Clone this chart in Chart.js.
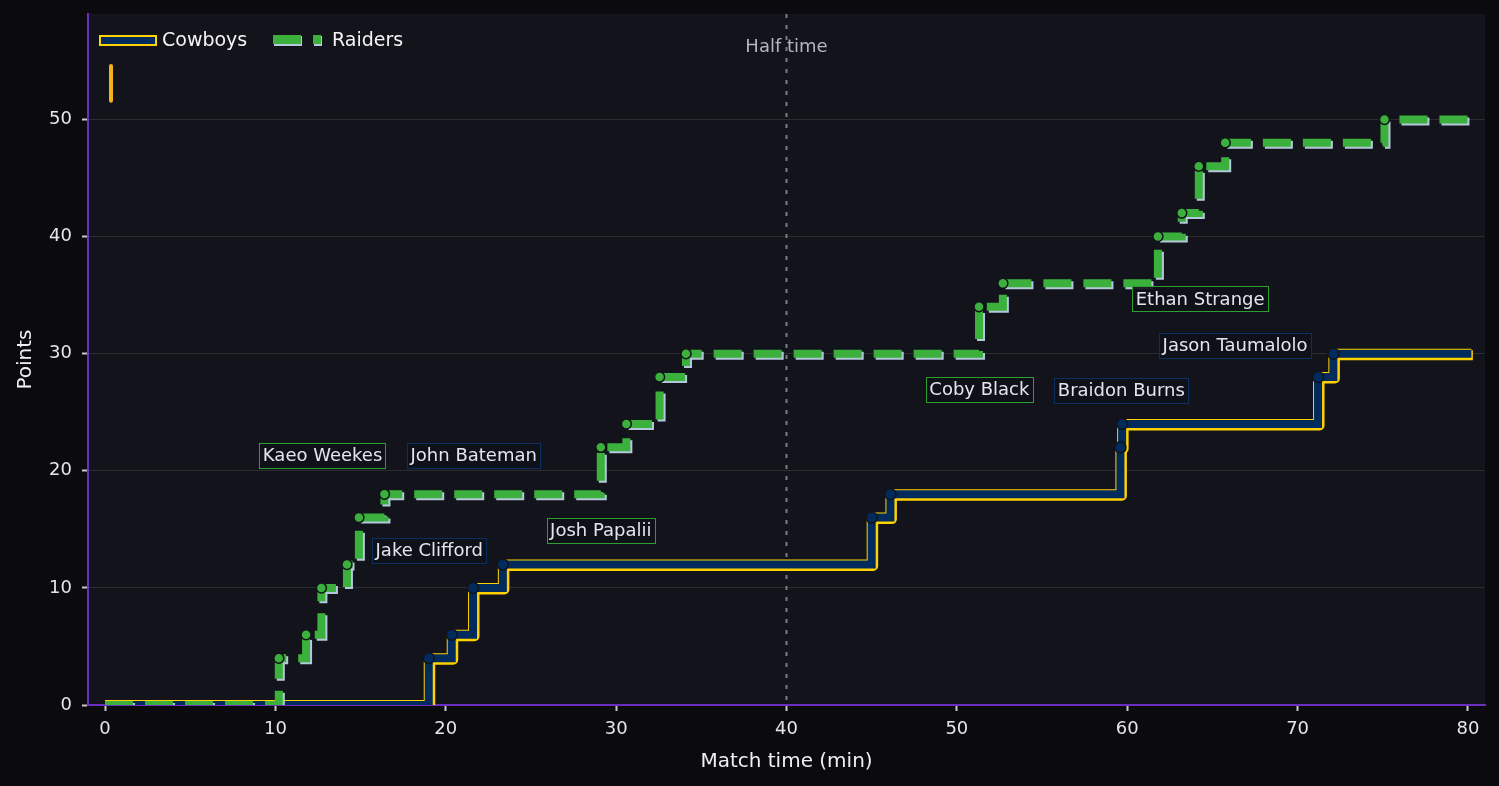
<!DOCTYPE html>
<html><head><meta charset="utf-8">
<script src="https://cdn.jsdelivr.net/npm/chart.js@4.4.1/dist/chart.umd.min.js"></script>
<style>html,body{margin:0;padding:0;background:#0b0b0f;overflow:hidden}</style>
</head><body>
<canvas id="c" width="1499" height="786" style="display:block;width:1499px;height:786px"></canvas>
<script>
// ---- data ----
const cowboysTimes  = [0, 19.0, 20.35, 21.6, 23.35, 45.0, 46.1, 59.6, 59.7, 71.2, 72.1, 80.2];
const cowboysScores = [0, 4, 6, 10, 12, 16, 18, 22, 24, 28, 30, 30];
const raidersTimes  = [0, 10.2, 11.8, 12.7, 14.2, 14.9, 16.4, 29.1, 30.6, 32.55, 34.1, 51.3, 52.7, 61.8, 63.2, 64.2, 65.75, 75.1, 80];
const raidersScores = [0, 4, 6, 10, 12, 16, 18, 22, 24, 28, 30, 34, 36, 40, 42, 46, 48, 50, 50];
const labelNames  = ['Kaeo Weekes', 'John Bateman', 'Jake Clifford', 'Josh Papalii', 'Coby Black', 'Braidon Burns', 'Ethan Strange', 'Jason Taumalolo'];
const labelTimes  = [12.77, 21.64, 19.03, 29.1, 51.32, 59.65, 64.28, 66.33];
const labelPoints = [21.28, 21.28, 13.18, 14.93, 26.92, 26.88, 34.67, 30.73];
const labelTeams  = ['Raiders', 'Cowboys', 'Cowboys', 'Raiders', 'Raiders', 'Cowboys', 'Raiders', 'Cowboys'];
const markerTimes  = [0.35, 0.35];
const markerPoints = [51.6, 54.55];
const halfTime = 40;
const xTickValues = [0, 10, 20, 30, 40, 50, 60, 70, 80];
const yTickValues = [0, 10, 20, 30, 40, 50];

// ---- styles ----
const NAVY = '#002b5c', YELLOW = '#ffd100', GREEN = '#3cb03c', GREEN_SHADOW = '#b4c8dc';
const FONT = 'DejaVu Sans';
const xy = (ts, ps) => ts.map((t, i) => ({x: t, y: ps[i]}));
const scoringRadius = (n, r) => (ctx) => (ctx.dataIndex === 0 || ctx.dataIndex === n - 1) ? 0 : r;

const shadowPlugin = {
  id: 'shadowPlugin',
  beforeDatasetDraw(chart, args) {
    const ds = chart.data.datasets[args.index];
    if (ds.shadow) {
      const c = chart.ctx; c.save();
      c.shadowColor = ds.shadow.color; c.shadowOffsetX = ds.shadow.x; c.shadowOffsetY = ds.shadow.y; c.shadowBlur = 0;
    }
  },
  afterDatasetDraw(chart, args) {
    const ds = chart.data.datasets[args.index];
    if (ds.shadow) chart.ctx.restore();
  }
};

const bgPlugin = {
  id: 'bgPlugin',
  beforeDraw(chart) {
    const c = chart.ctx, a = chart.chartArea;
    c.save();
    c.fillStyle = '#0b0b0f'; c.fillRect(0, 0, chart.width, chart.height);
    c.fillStyle = '#13141b'; c.fillRect(a.left, a.top, a.right - a.left, a.bottom - a.top);
    c.restore();
  }
};

const halfTimePlugin = {
  id: 'halfTimePlugin',
  beforeDatasetsDraw(chart) {
    const c = chart.ctx, a = chart.chartArea, xs = chart.scales.x, ys = chart.scales.y;
    const px = xs.getPixelForValue(halfTime);
    c.save();
    c.strokeStyle = '#7c7c84'; c.lineWidth = 2; c.setLineDash([4, 7]);
    c.beginPath(); c.moveTo(px, a.top); c.lineTo(px, a.bottom); c.stroke();
    c.setLineDash([]);
    c.font = '18px "' + FONT + '"'; c.fillStyle = '#b4b4bc'; c.textAlign = 'center'; c.textBaseline = 'middle';
    c.fillText('Half time', px, ys.getPixelForValue(56.15));
    c.restore();
  }
};

const labelPlugin = {
  id: 'labelPlugin',
  afterDatasetsDraw(chart) {
    const c = chart.ctx, xs = chart.scales.x, ys = chart.scales.y;
    c.save();
    c.font = '18px "' + FONT + '"'; c.textAlign = 'center'; c.textBaseline = 'middle';
    labelNames.forEach((name, i) => {
      const cx = xs.getPixelForValue(labelTimes[i]), cy = ys.getPixelForValue(labelPoints[i]);
      const w = c.measureText(name).width + 7, h = 25;
      c.fillStyle = 'rgba(16,17,24,0.9)';
      c.fillRect(cx - w / 2, cy - h / 2, w, h);
      c.strokeStyle = labelTeams[i] === 'Raiders' ? '#2e9e2e' : '#0d2e60';
      c.lineWidth = 1;
      c.strokeRect(Math.round(cx - w / 2) + 0.5, Math.round(cy - h / 2) + 0.5, Math.round(w), h);
      c.fillStyle = '#e4e4ee';
      c.fillText(name, cx, cy + 1);
    });
    c.restore();
  }
};

const legendPlugin = {
  id: 'legendPlugin',
  afterDraw(chart) {
    const c = chart.ctx;
    c.save();
    // Cowboys swatch
    c.fillStyle = NAVY; c.fillRect(99, 35, 58, 10);
    c.strokeStyle = YELLOW; c.lineWidth = 2; c.strokeRect(100, 36, 56, 9);
    // Raiders swatch
    c.fillStyle = GREEN_SHADOW; c.fillRect(274, 36, 28, 10); c.fillRect(314, 36, 8, 10);
    c.fillStyle = GREEN; c.fillRect(273, 35, 28, 9); c.fillRect(313, 35, 8, 9);
    c.font = '19px "' + FONT + '"'; c.fillStyle = '#f4f4f4'; c.textAlign = 'left'; c.textBaseline = 'middle';
    c.fillText('Cowboys', 162, 41);
    c.fillText('Raiders', 332, 41);
    c.restore();
  }
};

new Chart(document.getElementById('c'), {
  type: 'line',
  data: {
    datasets: [
      { label: 'Cowboys outline', data: xy(cowboysTimes, cowboysScores), borderColor: YELLOW, borderWidth: 10,
        stepped: true, pointRadius: 0, borderJoinStyle: 'round', shadow: {color: YELLOW, x: 1.5, y: 1.5}, order: 6, clip: 0 },
      { label: 'Cowboys', data: xy(cowboysTimes, cowboysScores), borderColor: NAVY, borderWidth: 8,
        stepped: true, pointRadius: 0, borderJoinStyle: 'miter', order: 5, clip: 0 },
      { label: 'Raiders', data: xy(raidersTimes, raidersScores), borderColor: GREEN, borderWidth: 8, borderDash: [28, 12],
        stepped: true, pointRadius: 0, borderJoinStyle: 'miter', shadow: {color: GREEN_SHADOW, x: 2, y: 2}, order: 3, clip: 0 },
      { label: 'Cowboys points', data: xy(cowboysTimes, cowboysScores), showLine: false,
        pointRadius: scoringRadius(cowboysTimes.length, 5.5), pointBackgroundColor: NAVY, pointBorderColor: '#111318', pointBorderWidth: 1.5, order: 2, clip: 0 },
      { label: 'Raiders points', data: xy(raidersTimes, raidersScores), showLine: false,
        pointRadius: scoringRadius(raidersTimes.length, 5), pointBackgroundColor: GREEN, pointBorderColor: '#111318', pointBorderWidth: 1.5, order: 1, clip: 0 },
      { label: 'marker', data: xy(markerTimes, markerPoints), borderColor: '#f2b21c', borderWidth: 4, borderCapStyle: 'round',
        pointRadius: 0, order: 0 }
    ]
  },
  options: {
    responsive: false, animation: false, devicePixelRatio: 1,
    layout: { padding: { top: 14, right: 14, left: 0, bottom: 0 } },
    plugins: { legend: { display: false }, tooltip: { enabled: false } },
    scales: {
      x: {
        type: 'linear', min: -1, max: 81,
        afterBuildTicks: s => { s.ticks = xTickValues.map(v => ({value: v})); },
        afterFit: s => { s.height = 81; s.paddingLeft = 0; s.paddingRight = 0; },
        grid: { drawOnChartArea: false, drawTicks: true, tickLength: 6, tickColor: '#c8c8c8', tickWidth: 2 },
        border: { color: '#6b2fbf', width: 2 },
        ticks: { color: '#e6e6e6', font: { family: FONT, size: 18 }, padding: 8, maxRotation: 0 },
        title: { display: true, text: 'Match time (min)', color: '#f0f0f0', font: { family: FONT, size: 20 }, padding: { top: 4, bottom: 12 } }
      },
      y: {
        type: 'linear', min: 0, max: 59,
        afterBuildTicks: s => { s.ticks = yTickValues.map(v => ({value: v})); },
        afterFit: s => { s.width = 88; s.paddingTop = 0; s.paddingBottom = 0; },
        grid: { color: '#2c2d2e', lineWidth: 1, drawTicks: true, tickLength: 6, tickColor: '#c8c8c8', tickWidth: 2 },
        border: { color: '#6b2fbf', width: 2 },
        ticks: { color: '#e6e6e6', font: { family: FONT, size: 18 }, padding: 10 },
        title: { display: true, text: 'Points', color: '#f0f0f0', font: { family: FONT, size: 20 }, padding: { top: 14, bottom: 4 } }
      }
    }
  },
  plugins: [bgPlugin, shadowPlugin, halfTimePlugin, labelPlugin, legendPlugin]
});
</script>
</body></html>
